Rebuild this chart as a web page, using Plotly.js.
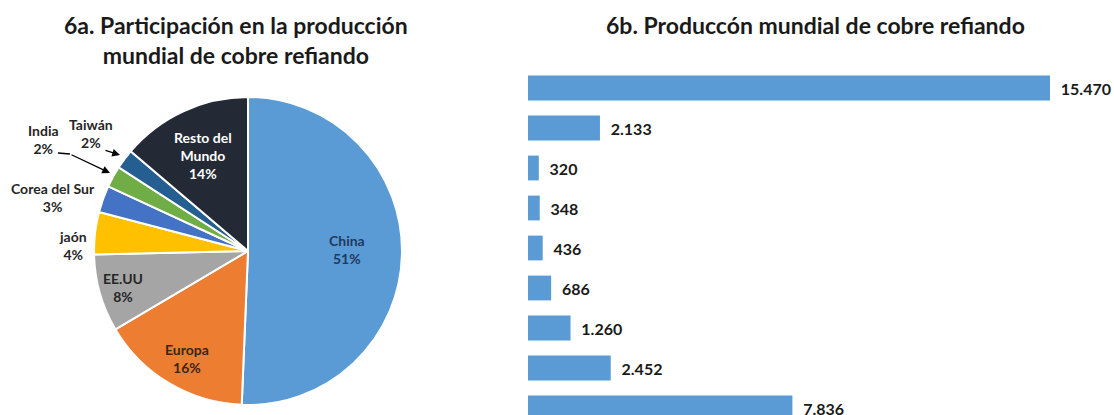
<!DOCTYPE html>
<html>
<head>
<meta charset="utf-8">
<script src="https://cdn.plot.ly/plotly-3.0.1.min.js"></script>
<style>html,body{margin:0;padding:0;background:#fff;}#chart{width:1114px;height:415px;}</style>
</head>
<body>
<div id="chart"></div>
<script>
// Pie: share of world refined copper production (clockwise from 12 o'clock)
const pieLabels = ["China", "Europa", "EE.UU", "jaón", "Corea del Sur", "India", "Taiwán", "Resto del<br>Mundo"];
const pieValues = [7836, 2452, 1260, 686, 436, 348, 320, 2133];
const pieColors = ["#5B9BD5", "#ED7D31", "#A5A5A5", "#FFC000", "#4472C4", "#70AD47", "#255E91", "#232A36"];

// Bars: world refined copper production (top to bottom)
const barCategories = ["Total", "Resto del Mundo", "Taiwán", "India", "Corea del Sur", "Japón", "EE.UU", "Europa", "China"];
const barValues = [15470, 2133, 320, 348, 436, 686, 1260, 2452, 7836];

const titleA = "6a. Participación en la producción<br>mundial de cobre refiando";
const titleB = "6b. Produccón mundial de cobre refiando";

const FONT = "Lato, 'Open Sans', sans-serif";
const total = pieValues.reduce((a, b) => a + b, 0);
const pct = pieValues.map(v => Math.round(100 * v / total) + "%");

const pie = {
  type: "pie",
  labels: pieLabels,
  values: pieValues,
  sort: false,
  direction: "clockwise",
  rotation: 0,
  marker: { colors: pieColors, line: { color: "#FFFFFF", width: 2 } },
  textinfo: "none",
  domain: { x: [94 / 1114, 402 / 1114], y: [1 - 405 / 415, 1 - 97 / 415] },
  hoverinfo: "label+percent",
  showlegend: false
};

const bar = {
  type: "bar",
  orientation: "h",
  y: barCategories,
  x: barValues,
  width: 0.62,
  marker: { color: "#5B9BD5" },
  texttemplate: "  %{x:,}",
  textposition: "outside",
  cliponaxis: false,
  textfont: { family: FONT, size: 16, color: "#1A1A1A", weight: "bold" },
  xaxis: "x", yaxis: "y",
  showlegend: false
};

// Pie label placement (index into pie arrays, pixel position, colour)
const labelPlace = [
  { i: 0, x: 347, y: 249, c: "#1F3A5F" },
  { i: 1, x: 187, y: 358, c: "#3A2614" },
  { i: 2, x: 123, y: 287, c: "#262626" },
  { i: 3, x: 73, y: 245, c: "#262626" },
  { i: 4, x: 53, y: 197, c: "#262626" },
  { i: 5, x: 43, y: 139, c: "#262626" },
  { i: 6, x: 91, y: 133, c: "#262626" },
  { i: 7, x: 203, y: 155, c: "#FFFFFF" }
];
const px = x => x / 1114, py = y => 1 - y / 415;

const annotations = [
  { text: titleA, x: px(236), y: py(40), xref: "paper", yref: "paper", showarrow: false,
    font: { family: FONT, size: 23, color: "#1A1A1A", weight: "bold" }, xanchor: "center", yanchor: "middle" },
  { text: titleB, x: px(815), y: py(25), xref: "paper", yref: "paper", showarrow: false,
    font: { family: FONT, size: 23, color: "#1A1A1A", weight: "bold" }, xanchor: "center", yanchor: "middle" }
];
labelPlace.forEach(o => {
  annotations.push({ text: pieLabels[o.i] + "<br>" + pct[o.i], x: px(o.x), y: py(o.y), xref: "paper", yref: "paper",
    showarrow: false, xanchor: "center", yanchor: "middle",
    font: { family: FONT, size: 14, color: o.c, weight: "bold" } });
});
// arrows (India, Taiwán)
annotations.push({ text: "", x: px(110), y: py(173), xref: "paper", yref: "paper", showarrow: true,
  ax: 70 - 110, ay: 154 - 173, arrowhead: 2, arrowsize: 1.2, arrowwidth: 1.3, arrowcolor: "#000", standoff: 0 });
annotations.push({ text: "", x: px(120), y: py(155), xref: "paper", yref: "paper", showarrow: true,
  ax: 104 - 120, ay: 150 - 155, arrowhead: 2, arrowsize: 1.2, arrowwidth: 1.3, arrowcolor: "#000", standoff: 0 });

const shapes = [
  { type: "line", xref: "paper", yref: "paper", x0: px(58), y0: py(153), x1: px(70), y1: py(154), line: { color: "#000", width: 1.3 } }
];

const layout = {
  width: 1114, height: 415,
  margin: { l: 0, r: 0, t: 0, b: 0 },
  paper_bgcolor: "#FFFFFF", plot_bgcolor: "#FFFFFF",
  separators: ",.",
  font: { family: FONT },
  showlegend: false,
  xaxis: { domain: [528 / 1114, 1050 / 1114], range: [0, 15470], visible: false, fixedrange: true },
  yaxis: { domain: [0, 1 - 60 / 415], range: [8.175, -0.7], type: "category", visible: false, fixedrange: true },
  annotations: annotations,
  shapes: shapes
};

Plotly.newPlot("chart", [pie, bar], layout, { displayModeBar: false, staticPlot: true });
</script>
</body>
</html>
